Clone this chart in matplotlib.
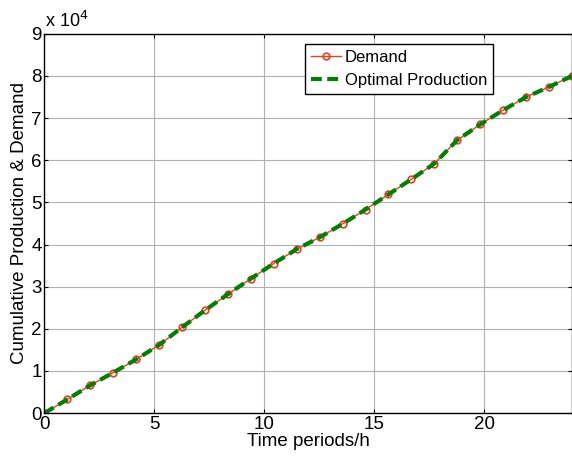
import matplotlib
matplotlib.use("Agg")
import matplotlib.pyplot as plt
import numpy as np

plt.rcParams["font.family"] = ["Liberation Sans", "DejaVu Sans"]

# 24 hourly points over 0..24 h, values in units of 1e4
hours = np.linspace(0, 24, 24)
demand = [0, 0.325, 0.66, 0.96, 1.275, 1.615, 2.035, 2.44, 2.82, 3.19, 3.55, 3.89,
          4.17, 4.49, 4.83, 5.19, 5.55, 5.92, 6.48, 6.85, 7.19, 7.50, 7.74, 8.00]
production = demand

x_ticks = [0, 5, 10, 15, 20]
y_ticks = list(range(10))

fig = plt.figure(figsize=(5.72, 4.57), dpi=100)
ax = fig.add_axes([0.0775, 0.096, 0.9225, 0.83])

ax.plot(hours, np.array(demand) * 1e4, color="#e8401c", lw=1, marker="o",
        markersize=4.8, markerfacecolor="none", markeredgewidth=1.2, label="Demand")
ax.plot(hours, np.array(production) * 1e4, color="#008000", lw=3,
        linestyle=(0, (2.6, 1.3)), label="Optimal Production")

ax.set_xlim(0, 24)
ax.set_ylim(0, 9e4)
ax.set_xticks(x_ticks)
ax.set_yticks([v * 1e4 for v in y_ticks])
ax.set_yticklabels([str(v) for v in y_ticks])
ax.tick_params(direction="in", top=True, right=True, labelsize=13.5, length=3, pad=2)
ax.grid(True, color="#b0b0b0", lw=0.8)
ax.set_axisbelow(True)
for s in ax.spines.values():
    s.set_linewidth(1)

ax.set_xlabel("Time periods/h", fontsize=13.5, labelpad=0)
ax.set_ylabel("Cumulative Production & Demand", fontsize=13.5, labelpad=2)
ax.text(0.002, 1.008, r"x 10$^{4}$", transform=ax.transAxes, fontsize=13,
        ha="left", va="bottom")

leg = ax.legend(loc="upper left", bbox_to_anchor=(0.494, 0.972), borderaxespad=0,
                fontsize=12, fancybox=False, edgecolor="black", framealpha=1,
                handlelength=1.8, handletextpad=0.25, borderpad=0.35, labelspacing=0.45)
leg.get_frame().set_linewidth(1)

fig.savefig("out.png", dpi=100)
